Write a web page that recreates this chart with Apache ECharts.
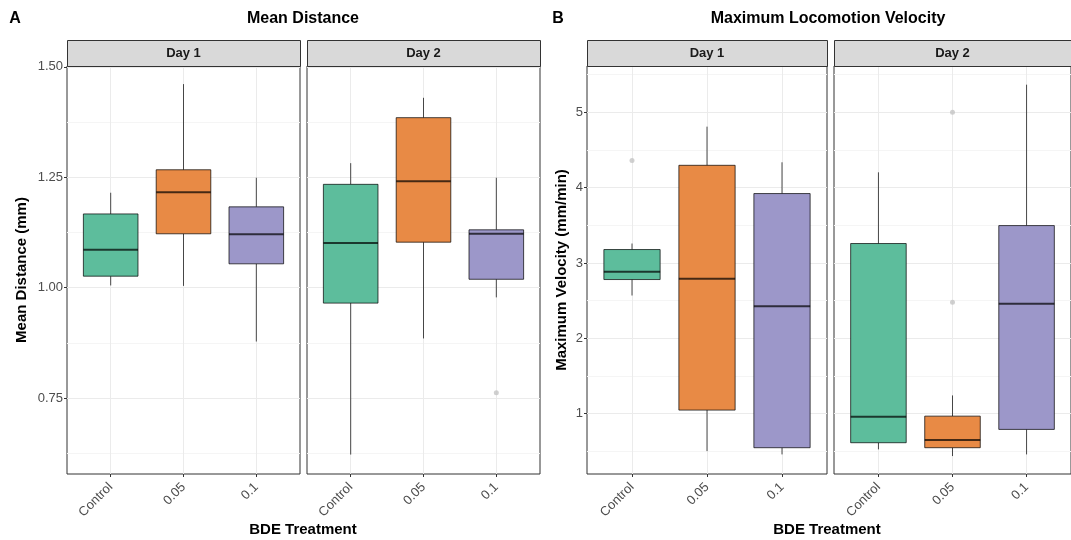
<!DOCTYPE html>
<html>
<head>
<meta charset="utf-8">
<script src="https://cdn.jsdelivr.net/npm/echarts@6/dist/echarts.min.js"></script>
<style>html,body{margin:0;padding:0;background:#fff}#c{width:1071px;height:540px}</style>
</head>
<body>
<div id="c"></div>
<script>
// ---- data ----
const categories = ['Control', '0.05', '0.1'];
const days = ['Day 1', 'Day 2'];
const fills = ['#5dbd9c', '#e88a45', '#9c97c9'];
// each box: [whiskerLow, q1, median, q3, whiskerHigh]
const distDay1 = [[1.005, 1.026, 1.086, 1.167, 1.215], [1.004, 1.122, 1.216, 1.267, 1.461], [0.878, 1.054, 1.121, 1.183, 1.249]];
const distDay2 = [[0.622, 0.965, 1.101, 1.234, 1.282], [0.885, 1.103, 1.241, 1.385, 1.430], [0.978, 1.019, 1.122, 1.131, 1.249]];
const distOutDay1 = [[], [], []];
const distOutDay2 = [[], [], [0.762]];
const velDay1 = [[2.569, 2.781, 2.883, 3.179, 3.259], [0.504, 1.048, 2.790, 4.297, 4.810], [0.460, 0.549, 2.427, 3.922, 4.337]];
const velDay2 = [[0.527, 0.615, 0.960, 3.259, 4.204], [0.438, 0.549, 0.650, 0.968, 1.243], [0.460, 0.792, 2.459, 3.497, 5.367]];
const velOutDay1 = [[4.36], [], []];
const velOutDay2 = [[], [5.00, 2.48], []];
const distTicks = [0.75, 1.00, 1.25, 1.50];
const distMinor = [0.625, 0.875, 1.125, 1.375];
const velTicks = [1, 2, 3, 4, 5];
const velMinor = [0.5, 1.5, 2.5, 3.5, 4.5, 5.5];

// ---- layout ----
const FONT = 'Liberation Sans, Arial, sans-serif';
const PT = 66, PH = 408;
const panels = [
  {left: 67, width: 233, boxes: distDay1, outs: distOutDay1, ymin: 0.578, ymax: 1.502, ticks: distTicks, minor: distMinor, fmt: v => v.toFixed(2), showY: true, yname: 'Mean Distance (mm)', gap: 38},
  {left: 307, width: 233, boxes: distDay2, outs: distOutDay2, ymin: 0.578, ymax: 1.502, ticks: distTicks, minor: distMinor, fmt: v => v.toFixed(2), showY: false},
  {left: 587, width: 240, boxes: velDay1, outs: velOutDay1, ymin: 0.2, ymax: 5.615, ticks: velTicks, minor: velMinor, fmt: v => String(v), showY: true, yname: 'Maximum Velocity (mm/min)', gap: 18},
  {left: 834, width: 237, boxes: velDay2, outs: velOutDay2, ymin: 0.2, ymax: 5.615, ticks: velTicks, minor: velMinor, fmt: v => String(v), showY: false}
];

const grid = [], xAxis = [], yAxis = [], series = [], graphic = [];
panels.forEach((p, i) => {
  grid.push({left: p.left, top: PT, width: p.width, height: PH, show: true, borderColor: '#333', borderWidth: 1, backgroundColor: '#fff', containLabel: false});
  xAxis.push({
    type: 'value', gridIndex: i, min: 0.4, max: 3.6,
    axisLine: {show: false},
    axisTick: {show: true, customValues: [1, 2, 3], length: 3, lineStyle: {color: '#333'}},
    axisLabel: {show: true, customValues: [1, 2, 3], formatter: v => categories[Math.round(v) - 1], rotate: 45, color: '#4d4d4d', fontSize: 13, fontFamily: FONT, margin: 11},
    splitLine: {show: true, lineStyle: {color: '#ebebeb', width: 1}}
  });
  yAxis.push({
    type: 'value', gridIndex: i, min: p.ymin, max: p.ymax,
    axisLine: {show: false},
    axisTick: {show: p.showY, customValues: p.ticks, length: 3, lineStyle: {color: '#333'}},
    axisLabel: {show: p.showY, customValues: p.ticks, formatter: p.fmt, color: '#4d4d4d', fontSize: 13, fontFamily: FONT, margin: 4},
    splitLine: {show: true, lineStyle: {color: '#ebebeb', width: 1}},
    name: p.showY ? p.yname : '', nameLocation: 'middle', nameGap: p.gap || 0, nameRotate: 90,
    nameTextStyle: {fontWeight: 'bold', fontSize: 15, color: '#000', fontFamily: FONT}
  });
});
// minor y axes (gridlines only)
panels.forEach((p, i) => {
  yAxis.push({
    type: 'value', gridIndex: i, min: p.ymin, max: p.ymax, position: 'left',
    axisLine: {show: false},
    axisTick: {show: false, customValues: p.minor},
    axisLabel: {show: false, customValues: p.minor},
    splitLine: {show: true, lineStyle: {color: '#f5f5f5', width: 1}}
  });
});

function renderBox(params, api) {
  const x = api.value(0);
  const lo = api.coord([x, api.value(1)]);
  const q1 = api.coord([x, api.value(2)]);
  const md = api.coord([x, api.value(3)]);
  const q3 = api.coord([x, api.value(4)]);
  const hi = api.coord([x, api.value(5)]);
  const w = api.size([0.75, 0])[0];
  const cx = lo[0];
  const stroke = 'rgba(0,0,0,0.7)';
  return {
    type: 'group',
    children: [
      {type: 'line', shape: {x1: cx, y1: lo[1], x2: cx, y2: q1[1]}, style: {stroke: stroke, lineWidth: 1}},
      {type: 'line', shape: {x1: cx, y1: q3[1], x2: cx, y2: hi[1]}, style: {stroke: stroke, lineWidth: 1}},
      {type: 'rect', shape: {x: cx - w / 2, y: q3[1], width: w, height: q1[1] - q3[1]}, style: {fill: api.visual('color'), stroke: stroke, lineWidth: 1}},
      {type: 'line', shape: {x1: cx - w / 2, y1: md[1], x2: cx + w / 2, y2: md[1]}, style: {stroke: stroke, lineWidth: 2}}
    ]
  };
}

panels.forEach((p, i) => {
  series.push({
    type: 'custom', xAxisIndex: i, yAxisIndex: i, renderItem: renderBox,
    encode: {x: 0, y: [1, 2, 3, 4, 5]}, silent: true, animation: false,
    data: p.boxes.map((b, k) => ({value: [k + 1].concat(b), itemStyle: {color: fills[k]}}))
  });
  const pts = [];
  p.outs.forEach((arr, k) => arr.forEach(v => pts.push([k + 1, v])));
  series.push({
    type: 'scatter', xAxisIndex: i, yAxisIndex: i, symbolSize: 5, silent: true, animation: false,
    itemStyle: {color: '#c4c4c4'}, data: pts
  });
  graphic.push({type: 'rect', left: p.left, top: 40, shape: {width: p.width, height: 26}, style: {fill: '#d9d9d9', stroke: '#333', lineWidth: 1}, z: 10});
  graphic.push({type: 'text', x: p.left + p.width / 2, y: 53, style: {text: days[i % 2], fill: '#1a1a1a', font: 'bold 13px ' + FONT, textAlign: 'center', textVerticalAlign: 'middle'}, z: 11});
});

const txt = (s, x, y, size) => ({type: 'text', x: x, y: y, style: {text: s, fill: '#000', font: 'bold ' + size + 'px ' + FONT, textAlign: 'center', textVerticalAlign: 'middle'}, z: 11});
graphic.push(txt('A', 15, 19, 16));
graphic.push(txt('Mean Distance', 303, 19, 16));
graphic.push(txt('B', 558, 19, 16));
graphic.push(txt('Maximum Locomotion Velocity', 828, 19, 16));
graphic.push(txt('BDE Treatment', 303, 530, 15));
graphic.push(txt('BDE Treatment', 827, 530, 15));

const chart = echarts.init(document.getElementById('c'), null, {renderer: 'canvas'});
chart.setOption({
  animation: false,
  backgroundColor: '#fff',
  textStyle: {fontFamily: FONT},
  grid: grid, xAxis: xAxis, yAxis: yAxis, series: series, graphic: graphic
});
</script>
</body>
</html>
